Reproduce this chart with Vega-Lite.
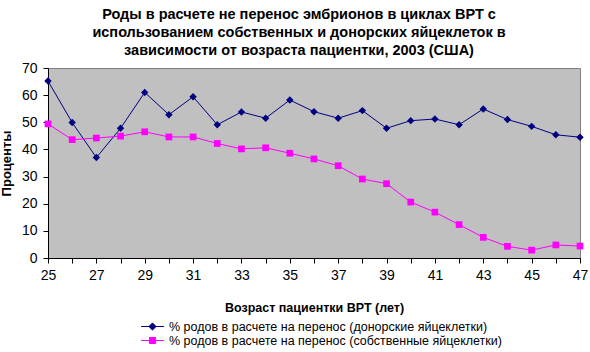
{
  "$schema": "https://vega.github.io/schema/vega-lite/v6.json",
  "autosize": "none",
  "width": 532,
  "height": 190,
  "padding": {"left": 48, "top": 68, "right": 10, "bottom": 94},
  "background": "white",
  "config": {
    "view": {"fill": "#C0C0C0", "stroke": "#808080", "strokeWidth": 1},
    "axis": {"labelFont": "Liberation Sans", "titleFont": "Liberation Sans", "labelColor": "black", "titleColor": "black", "domainColor": "black", "tickColor": "black", "grid": false}
  },
  "title": {
    "text": ["Роды в расчете не перенос эмбрионов в циклах ВРТ с", "использованием собственных и донорских яйцеклеток в", "зависимости от возраста пациентки, 2003 (США)"],
    "font": "Liberation Sans", "fontSize": 14.5, "fontWeight": "bold", "color": "black",
    "anchor": "middle", "dx": -15, "lineHeight": 18, "offset": 3
  },
  "data": {"values": [
    {"age": 25, "series": "d", "value": 65.2}, {"age": 26, "series": "d", "value": 49.9}, {"age": 27, "series": "d", "value": 37.0}, {"age": 28, "series": "d", "value": 47.8}, {"age": 29, "series": "d", "value": 61.0}, {"age": 30, "series": "d", "value": 52.8}, {"age": 31, "series": "d", "value": 59.4}, {"age": 32, "series": "d", "value": 49.1}, {"age": 33, "series": "d", "value": 53.8}, {"age": 34, "series": "d", "value": 51.5}, {"age": 35, "series": "d", "value": 58.2}, {"age": 36, "series": "d", "value": 53.9}, {"age": 37, "series": "d", "value": 51.5}, {"age": 38, "series": "d", "value": 54.3}, {"age": 39, "series": "d", "value": 47.8}, {"age": 40, "series": "d", "value": 50.6}, {"age": 41, "series": "d", "value": 51.2}, {"age": 42, "series": "d", "value": 49.1}, {"age": 43, "series": "d", "value": 54.9}, {"age": 44, "series": "d", "value": 51.0}, {"age": 45, "series": "d", "value": 48.5}, {"age": 46, "series": "d", "value": 45.4}, {"age": 47, "series": "d", "value": 44.5},
    {"age": 25, "series": "s", "value": 49.4}, {"age": 26, "series": "s", "value": 43.6}, {"age": 27, "series": "s", "value": 44.2}, {"age": 28, "series": "s", "value": 44.9}, {"age": 29, "series": "s", "value": 46.5}, {"age": 30, "series": "s", "value": 44.6}, {"age": 31, "series": "s", "value": 44.6}, {"age": 32, "series": "s", "value": 42.2}, {"age": 33, "series": "s", "value": 40.2}, {"age": 34, "series": "s", "value": 40.6}, {"age": 35, "series": "s", "value": 38.6}, {"age": 36, "series": "s", "value": 36.5}, {"age": 37, "series": "s", "value": 34.0}, {"age": 38, "series": "s", "value": 29.1}, {"age": 39, "series": "s", "value": 27.4}, {"age": 40, "series": "s", "value": 20.6}, {"age": 41, "series": "s", "value": 16.9}, {"age": 42, "series": "s", "value": 12.3}, {"age": 43, "series": "s", "value": 7.6}, {"age": 44, "series": "s", "value": 4.3}, {"age": 45, "series": "s", "value": 2.9}, {"age": 46, "series": "s", "value": 4.8}, {"age": 47, "series": "s", "value": 4.4}
  ]},
  "encoding": {
    "x": {"field": "age", "type": "quantitative",
      "scale": {"domain": [25, 47], "nice": false, "zero": false},
      "axis": {"title": "Возраст пациентки ВРТ (лет)", "titleFontSize": 12.5, "titleFontWeight": "bold", "titlePadding": 19,
        "values": [25,26,27,28,29,30,31,32,33,34,35,36,37,38,39,40,41,42,43,44,45,46,47],
        "labelExpr": "datum.value % 2 == 1 ? datum.label : ''", "labelOverlap": false,
        "labelFontSize": 14, "tickSize": 5, "labelPadding": 5, "labelFlush": false}},
    "y": {"field": "value", "type": "quantitative",
      "scale": {"domain": [0, 70], "nice": false},
      "axis": {"title": "Проценты", "titleFontSize": 13, "titleFontWeight": "bold", "titlePadding": 8,
        "values": [0,10,20,30,40,50,60,70], "labelFontSize": 14, "tickSize": 5, "labelPadding": 6}},
    "color": {"field": "series", "type": "nominal",
      "scale": {"domain": ["d", "s"], "range": ["#000080", "#FF00FF"]},
      "legend": {"orient": "none", "legendX": 98, "legendY": 252, "padding": 0, "title": null,
        "labelExpr": "datum.value == 'd' ? '% родов в расчете на перенос (донорские яйцеклетки)' : '% родов в расчете на перенос (собственные яйцеклетки)'",
        "labelFont": "Liberation Sans", "labelFontSize": 12.5, "labelColor": "black", "labelOffset": 10, "labelLimit": 0,
        "symbolSize": 144, "rowPadding": 1,
        "encode": {"symbols": {"update": {
          "shape": {"signal": "datum.value == 'd' ? 'M-1.9,0H1.9M0,-0.6L0.6,0L0,0.6L-0.6,0Z' : 'M-1.9,0H1.9M-0.5,-0.5H0.5V0.5H-0.5Z'"},
          "fill": {"signal": "datum.value == 'd' ? '#000080' : '#FF00FF'"},
          "stroke": {"signal": "datum.value == 'd' ? '#000080' : '#FF00FF'"},
          "strokeWidth": {"value": 1},
          "opacity": {"value": 1}, "fillOpacity": {"value": 1}, "strokeOpacity": {"value": 1}
        }}}}}
  },
  "layer": [
    {"mark": {"type": "line", "strokeWidth": 1}},
    {"transform": [{"filter": "datum.series == 'd'"}],
     "mark": {"type": "point", "filled": true, "opacity": 1, "shape": "diamond", "size": 55}},
    {"transform": [{"filter": "datum.series == 's'"}],
     "mark": {"type": "point", "filled": true, "opacity": 1, "shape": "square", "size": 45}}
  ]
}
